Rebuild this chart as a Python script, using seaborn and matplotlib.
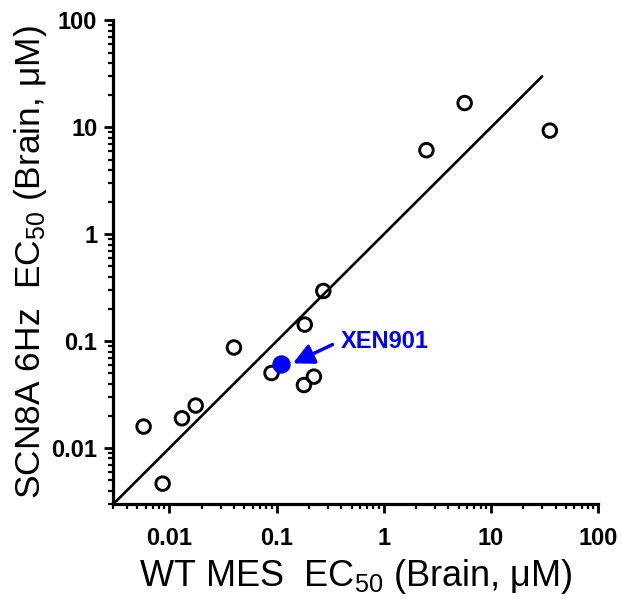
import matplotlib
matplotlib.use('Agg')
import matplotlib.pyplot as plt
import seaborn as sns
import pandas as pd

# values (brain EC50, uM)
wt_mes = [0.00575, 0.00865, 0.0131, 0.0176, 0.040, 0.0897, 0.18, 0.183, 0.223, 0.273, 2.5, 5.68, 35.4]
scn8a_6hz = [0.0159, 0.00465, 0.019, 0.025, 0.0873, 0.0504, 0.0389, 0.143, 0.0466, 0.295, 6.12, 16.9, 9.33]

xen901_wt = [0.109]
xen901_scn = [0.0607]

unity_range = [0.003, 30]
axis_limits = [0.003, 100]
tick_values = [0.01, 0.1, 1, 10, 100]
tick_labels = ['0.01', '0.1', '1', '10', '100']

df = pd.DataFrame({'wt': wt_mes, 'scn': scn8a_6hz})
df_xen = pd.DataFrame({'wt': xen901_wt, 'scn': xen901_scn})

sns.set_style('ticks')
plt.rcParams['font.family'] = ['Liberation Sans', 'DejaVu Sans']
plt.rcParams['mathtext.default'] = 'regular'

fig = plt.figure(figsize=(6.22, 5.99), dpi=100)
ax = fig.add_axes([0.1822, 0.1586, 0.7795, 0.8072])

ax.plot(unity_range, unity_range, color='black', lw=1.9, zorder=2)

sns.scatterplot(data=df, x='wt', y='scn', ax=ax, marker='o', s=95,
                facecolor='none', edgecolor='black', linewidth=2.1, zorder=3)
sns.scatterplot(data=df_xen, x='wt', y='scn', ax=ax, marker='o', s=175,
                color='#0000ff', edgecolor='#0000ff', linewidth=0, zorder=4)

ax.set_xscale('log')
ax.set_yscale('log')
ax.set_xlim(axis_limits)
ax.set_ylim(axis_limits)
ax.set_xticks(tick_values)
ax.set_xticklabels(tick_labels)
ax.set_yticks(tick_values)
ax.set_yticklabels(tick_labels)

# arrow + label for XEN901
ax.annotate('', xy=(0.142, 0.062), xytext=(0.332, 0.093),
            arrowprops=dict(arrowstyle='-|>,head_length=0.5,head_width=0.25',
                            color='#0000ff', lw=2.5, mutation_scale=25,
                            shrinkA=0, shrinkB=0))
ax.text(0.40, 0.10, 'XEN901', color='#0000ff', fontsize=17, fontweight='bold',
        ha='left', va='center')

for side in ['top', 'right']:
    ax.spines[side].set_visible(False)
for side in ['left', 'bottom']:
    ax.spines[side].set_linewidth(2.3)
    ax.spines[side].set_color('black')

ax.tick_params(which='major', length=6.5, width=2, labelsize=17, direction='out',
               color='black', labelcolor='black')
ax.tick_params(which='minor', length=3.5, width=1.6, direction='out', color='black')
ax.tick_params(axis='x', which='major', pad=10)
ax.tick_params(axis='y', which='major', pad=5)
for lab in ax.get_xticklabels() + ax.get_yticklabels():
    lab.set_fontweight('bold')

ax.set_xlabel('WT MES  EC$_{50}$ (Brain, \u03bcM)', fontsize=26, labelpad=5, color='black')
ax.set_ylabel('SCN8A 6Hz  EC$_{50}$ (Brain, \u03bcM)', fontsize=25.5, labelpad=2, color='black')

fig.savefig('out.png', dpi=100)
